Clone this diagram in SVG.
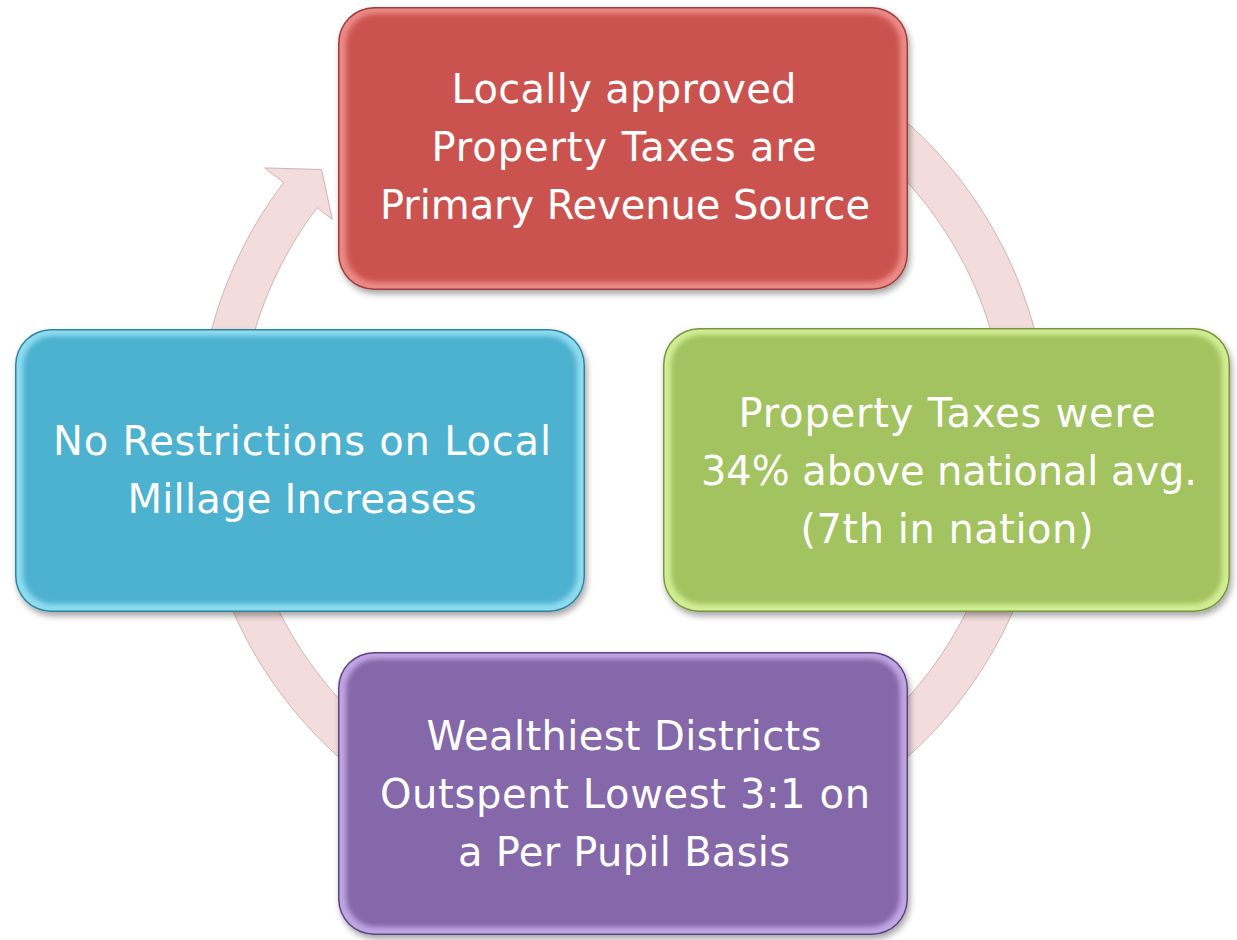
<svg xmlns="http://www.w3.org/2000/svg" width="1237" height="940" viewBox="0 0 1237 940">
  <defs>
    <filter id="shadow" x="-10%" y="-10%" width="120%" height="125%">
      <feDropShadow dx="2" dy="4" stdDeviation="3" flood-color="#000" flood-opacity="0.35"/>
    </filter>
    <filter id="soft" x="-5%" y="-5%" width="110%" height="110%">
      <feGaussianBlur stdDeviation="2.5"/>
    </filter>
    <style>
      .lbl { font-family: "DejaVu Sans", "Liberation Sans", sans-serif; font-size: 40px; fill: #ffffff; text-anchor: middle; }
      .ring { fill: #F2DCDC; stroke: #C7AEAF; stroke-width: 0.9; }
      .red .edge { fill: #9E3E3C; } .red .rim { fill: #EC8A86; } .red .face { fill: #CB5250; }
      .green .edge { fill: #78963F; } .green .rim { fill: #D2EE95; } .green .face { fill: #A2C35E; }
      .blue .edge { fill: #2E859F; } .blue .rim { fill: #8FDCF0; } .blue .face { fill: #4DB1D0; }
      .purple .edge { fill: #5C4580; } .purple .rim { fill: #C1A6E4; } .purple .face { fill: #8567A9; }
    </style>
  </defs>

  <rect width="1237" height="940" fill="#ffffff"/>

  <!-- circular arrow running clockwise behind the four blocks -->
  <g id="connectors">
    <path class="ring" d="M 360.7 104.3 A 426 426 0 1 1 283.7 182.4 L 264.6 167.9 L 321.6 169.5 L 332.3 219.3 L 317.1 207.8 A 384 384 0 1 0 386.6 137.4 Z"/>
  </g>

  <g id="node-revenue" class="red">
    <rect class="edge" x="338" y="7" width="570" height="283" rx="36" filter="url(#shadow)"/>
    <rect class="rim" x="339.5" y="8.5" width="567" height="280" rx="34.5"/>
    <rect class="face" x="346" y="14" width="554" height="268" rx="30" filter="url(#soft)"/>
    <text class="lbl" x="624" y="103" textLength="345" lengthAdjust="spacing">Locally approved</text>
    <text class="lbl" x="624" y="161" textLength="385" lengthAdjust="spacing">Property Taxes are</text>
    <text class="lbl" x="625" y="219" textLength="490" lengthAdjust="spacing">Primary Revenue Source</text>
  </g>

  <g id="node-above-avg" class="green">
    <rect class="edge" x="663" y="328" width="567" height="284" rx="36" filter="url(#shadow)"/>
    <rect class="rim" x="664.5" y="329.5" width="564" height="281" rx="34.5"/>
    <rect class="face" x="671" y="335" width="551" height="269" rx="30" filter="url(#soft)"/>
    <text class="lbl" x="947" y="427" textLength="417" lengthAdjust="spacing">Property Taxes were</text>
    <text class="lbl" x="949" y="485" textLength="496" lengthAdjust="spacing">34% above national avg.</text>
    <text class="lbl" x="947" y="543" textLength="293" lengthAdjust="spacing">(7th in nation)</text>
  </g>

  <g id="node-millage" class="blue">
    <rect class="edge" x="15" y="329" width="570" height="283" rx="36" filter="url(#shadow)"/>
    <rect class="rim" x="16.5" y="330.5" width="567" height="280" rx="34.5"/>
    <rect class="face" x="23" y="336" width="554" height="268" rx="30" filter="url(#soft)"/>
    <text class="lbl" x="302" y="455" textLength="498" lengthAdjust="spacing">No Restrictions on Local</text>
    <text class="lbl" x="302" y="513" textLength="349" lengthAdjust="spacing">Millage Increases</text>
  </g>

  <g id="node-districts" class="purple">
    <rect class="edge" x="338" y="652" width="570" height="283" rx="36" filter="url(#shadow)"/>
    <rect class="rim" x="339.5" y="653.5" width="567" height="280" rx="34.5"/>
    <rect class="face" x="346" y="659" width="554" height="268" rx="30" filter="url(#soft)"/>
    <text class="lbl" x="624" y="750" textLength="395" lengthAdjust="spacing">Wealthiest Districts</text>
    <text class="lbl" x="625" y="808" textLength="490" lengthAdjust="spacing">Outspent Lowest 3:1 on</text>
    <text class="lbl" x="624" y="866" textLength="332" lengthAdjust="spacing">a Per Pupil Basis</text>
  </g>
</svg>
